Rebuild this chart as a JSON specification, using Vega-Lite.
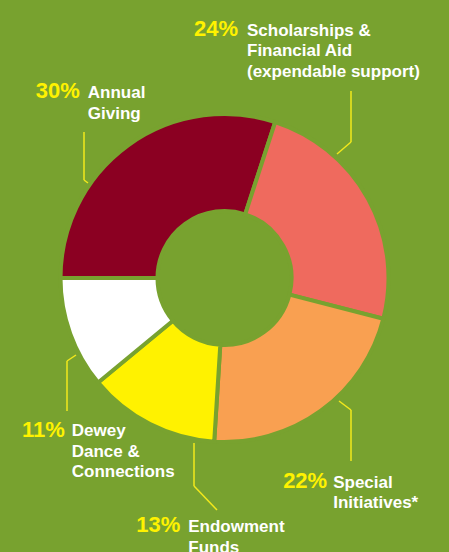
{
  "$schema": "https://vega.github.io/schema/vega-lite/v6.json",
  "width": 449,
  "height": 548,
  "autosize": "none",
  "padding": {"top": 4, "left": 0, "right": 0, "bottom": 0},
  "background": "#78a22f",
  "view": {"stroke": null},
  "data": {
    "values": [
      {"category": "Annual Giving", "label": "Annual\nGiving", "value": 30, "pct": "30%", "order": 1},
      {"category": "Scholarships & Financial Aid (expendable support)", "label": "Scholarships &\nFinancial Aid\n(expendable support)", "value": 24, "pct": "24%", "order": 2},
      {"category": "Special Initiatives*", "label": "Special\nInitiatives*", "value": 22, "pct": "22%", "order": 3},
      {"category": "Endowment Funds", "label": "Endowment\nFunds", "value": 13, "pct": "13%", "order": 4},
      {"category": "Dewey Dance & Connections", "label": "Dewey\nDance &\nConnections", "value": 11, "pct": "11%", "order": 5}
    ]
  },
  "layer": [
    {
      "mark": {"type": "arc", "innerRadius": 67, "outerRadius": 164, "stroke": "#78a22f", "strokeWidth": 4},
      "encoding": {
        "theta": {"field": "value", "type": "quantitative", "stack": true, "scale": {"range": [-1.5707963, 4.712389]}},
        "order": {"field": "order", "type": "quantitative"},
        "color": {
          "field": "category", "type": "nominal", "legend": null,
          "scale": {
            "domain": ["Annual Giving", "Scholarships & Financial Aid (expendable support)", "Special Initiatives*", "Endowment Funds", "Dewey Dance & Connections"],
            "range": ["#8b0022", "#ef6a5e", "#f9a051", "#fff200", "#ffffff"]
          }
        }
      }
    },
    {
      "mark": {"type": "text", "radius": 190, "dx": -33, "dy": -26, "align": "right", "baseline": "alphabetic", "font": "Liberation Sans", "fontWeight": "bold", "fontSize": 22, "fill": "#fff200"},
      "encoding": {
        "theta": {"field": "value", "type": "quantitative", "stack": true},
        "order": {"field": "order", "type": "quantitative"},
        "text": {"condition": {"test": "datum.order === 1", "field": "pct", "type": "nominal"}, "value": ""}
      }
    },
    {
      "mark": {"type": "text", "radius": 190, "dx": -25, "dy": -26, "align": "left", "baseline": "alphabetic", "lineBreak": "\n", "lineHeight": 20.5, "font": "Liberation Sans", "fontWeight": "bold", "fontSize": 17, "fill": "#ffffff"},
      "encoding": {
        "theta": {"field": "value", "type": "quantitative", "stack": true},
        "order": {"field": "order", "type": "quantitative"},
        "text": {"condition": {"test": "datum.order === 1", "field": "label", "type": "nominal"}, "value": ""}
      }
    },
    {
      "mark": {"type": "text", "radius": 190, "dx": -153, "dy": -150.5, "align": "right", "baseline": "alphabetic", "font": "Liberation Sans", "fontWeight": "bold", "fontSize": 22, "fill": "#fff200"},
      "encoding": {
        "theta": {"field": "value", "type": "quantitative", "stack": true},
        "order": {"field": "order", "type": "quantitative"},
        "text": {"condition": {"test": "datum.order === 2", "field": "pct", "type": "nominal"}, "value": ""}
      }
    },
    {
      "mark": {"type": "text", "radius": 190, "dx": -144, "dy": -150.5, "align": "left", "baseline": "alphabetic", "lineBreak": "\n", "lineHeight": 20.5, "font": "Liberation Sans", "fontWeight": "bold", "fontSize": 17, "fill": "#ffffff"},
      "encoding": {
        "theta": {"field": "value", "type": "quantitative", "stack": true},
        "order": {"field": "order", "type": "quantitative"},
        "text": {"condition": {"test": "datum.order === 2", "field": "label", "type": "nominal"}, "value": ""}
      }
    },
    {
      "mark": {"type": "text", "radius": 190, "dx": -9, "dy": 56, "align": "right", "baseline": "alphabetic", "font": "Liberation Sans", "fontWeight": "bold", "fontSize": 22, "fill": "#fff200"},
      "encoding": {
        "theta": {"field": "value", "type": "quantitative", "stack": true},
        "order": {"field": "order", "type": "quantitative"},
        "text": {"condition": {"test": "datum.order === 3", "field": "pct", "type": "nominal"}, "value": ""}
      }
    },
    {
      "mark": {"type": "text", "radius": 190, "dx": -3, "dy": 56, "align": "left", "baseline": "alphabetic", "lineBreak": "\n", "lineHeight": 20.5, "font": "Liberation Sans", "fontWeight": "bold", "fontSize": 17, "fill": "#ffffff"},
      "encoding": {
        "theta": {"field": "value", "type": "quantitative", "stack": true},
        "order": {"field": "order", "type": "quantitative"},
        "text": {"condition": {"test": "datum.order === 3", "field": "label", "type": "nominal"}, "value": ""}
      }
    },
    {
      "mark": {"type": "text", "radius": 190, "dx": 42, "dy": 85, "align": "right", "baseline": "alphabetic", "font": "Liberation Sans", "fontWeight": "bold", "fontSize": 22, "fill": "#fff200"},
      "encoding": {
        "theta": {"field": "value", "type": "quantitative", "stack": true},
        "order": {"field": "order", "type": "quantitative"},
        "text": {"condition": {"test": "datum.order === 4", "field": "pct", "type": "nominal"}, "value": ""}
      }
    },
    {
      "mark": {"type": "text", "radius": 190, "dx": 50, "dy": 85, "align": "left", "baseline": "alphabetic", "lineBreak": "\n", "lineHeight": 20.5, "font": "Liberation Sans", "fontWeight": "bold", "fontSize": 17, "fill": "#ffffff"},
      "encoding": {
        "theta": {"field": "value", "type": "quantitative", "stack": true},
        "order": {"field": "order", "type": "quantitative"},
        "text": {"condition": {"test": "datum.order === 4", "field": "label", "type": "nominal"}, "value": ""}
      }
    },
    {
      "mark": {"type": "text", "radius": 190, "dx": 19, "dy": 95, "align": "right", "baseline": "alphabetic", "font": "Liberation Sans", "fontWeight": "bold", "fontSize": 22, "fill": "#fff200"},
      "encoding": {
        "theta": {"field": "value", "type": "quantitative", "stack": true},
        "order": {"field": "order", "type": "quantitative"},
        "text": {"condition": {"test": "datum.order === 5", "field": "pct", "type": "nominal"}, "value": ""}
      }
    },
    {
      "mark": {"type": "text", "radius": 190, "dx": 26, "dy": 94, "align": "left", "baseline": "alphabetic", "lineBreak": "\n", "lineHeight": 20.5, "font": "Liberation Sans", "fontWeight": "bold", "fontSize": 17, "fill": "#ffffff"},
      "encoding": {
        "theta": {"field": "value", "type": "quantitative", "stack": true},
        "order": {"field": "order", "type": "quantitative"},
        "text": {"condition": {"test": "datum.order === 5", "field": "label", "type": "nominal"}, "value": ""}
      }
    },
    {
      "data": {"values": [{}]},
      "mark": {"type": "rule", "color": "#f2e81c", "strokeWidth": 1.5},
      "encoding": {
        "x": {"datum": -140.5, "type": "quantitative", "scale": {"domain": [-224.5, 224.5], "nice": false, "zero": false}, "axis": null},
        "y": {"datum": 146, "type": "quantitative", "scale": {"domain": [-274, 274], "nice": false, "zero": false}, "axis": null},
        "x2": {"datum": -140.5}, "y2": {"datum": 98}
      }
    },
    {
      "data": {"values": [{}]},
      "mark": {"type": "rule", "color": "#f2e81c", "strokeWidth": 1.5},
      "encoding": {
        "x": {"datum": -140.5, "type": "quantitative", "axis": null},
        "y": {"datum": 98, "type": "quantitative", "axis": null},
        "x2": {"datum": -136.5}, "y2": {"datum": 95}
      }
    },
    {
      "data": {"values": [{}]},
      "mark": {"type": "rule", "color": "#f2e81c", "strokeWidth": 1.5},
      "encoding": {
        "x": {"datum": 126.5, "type": "quantitative", "axis": null},
        "y": {"datum": 187, "type": "quantitative", "axis": null},
        "x2": {"datum": 126.5}, "y2": {"datum": 136}
      }
    },
    {
      "data": {"values": [{}]},
      "mark": {"type": "rule", "color": "#f2e81c", "strokeWidth": 1.5},
      "encoding": {
        "x": {"datum": 126.5, "type": "quantitative", "axis": null},
        "y": {"datum": 136, "type": "quantitative", "axis": null},
        "x2": {"datum": 112.5}, "y2": {"datum": 124}
      }
    },
    {
      "data": {"values": [{}]},
      "mark": {"type": "rule", "color": "#f2e81c", "strokeWidth": 1.5},
      "encoding": {
        "x": {"datum": -157.5, "type": "quantitative", "axis": null},
        "y": {"datum": -133, "type": "quantitative", "axis": null},
        "x2": {"datum": -157.5}, "y2": {"datum": -83}
      }
    },
    {
      "data": {"values": [{}]},
      "mark": {"type": "rule", "color": "#f2e81c", "strokeWidth": 1.5},
      "encoding": {
        "x": {"datum": -157.5, "type": "quantitative", "axis": null},
        "y": {"datum": -83, "type": "quantitative", "axis": null},
        "x2": {"datum": -148.5}, "y2": {"datum": -77}
      }
    },
    {
      "data": {"values": [{}]},
      "mark": {"type": "rule", "color": "#f2e81c", "strokeWidth": 1.5},
      "encoding": {
        "x": {"datum": -30.5, "type": "quantitative", "axis": null},
        "y": {"datum": -165, "type": "quantitative", "axis": null},
        "x2": {"datum": -30.5}, "y2": {"datum": -208}
      }
    },
    {
      "data": {"values": [{}]},
      "mark": {"type": "rule", "color": "#f2e81c", "strokeWidth": 1.5},
      "encoding": {
        "x": {"datum": -30.5, "type": "quantitative", "axis": null},
        "y": {"datum": -208, "type": "quantitative", "axis": null},
        "x2": {"datum": -7.5}, "y2": {"datum": -232}
      }
    },
    {
      "data": {"values": [{}]},
      "mark": {"type": "rule", "color": "#f2e81c", "strokeWidth": 1.5},
      "encoding": {
        "x": {"datum": 114.5, "type": "quantitative", "axis": null},
        "y": {"datum": -123, "type": "quantitative", "axis": null},
        "x2": {"datum": 126.5}, "y2": {"datum": -132}
      }
    },
    {
      "data": {"values": [{}]},
      "mark": {"type": "rule", "color": "#f2e81c", "strokeWidth": 1.5},
      "encoding": {
        "x": {"datum": 126.5, "type": "quantitative", "axis": null},
        "y": {"datum": -132, "type": "quantitative", "axis": null},
        "x2": {"datum": 126.5}, "y2": {"datum": -183}
      }
    }
  ]
}
